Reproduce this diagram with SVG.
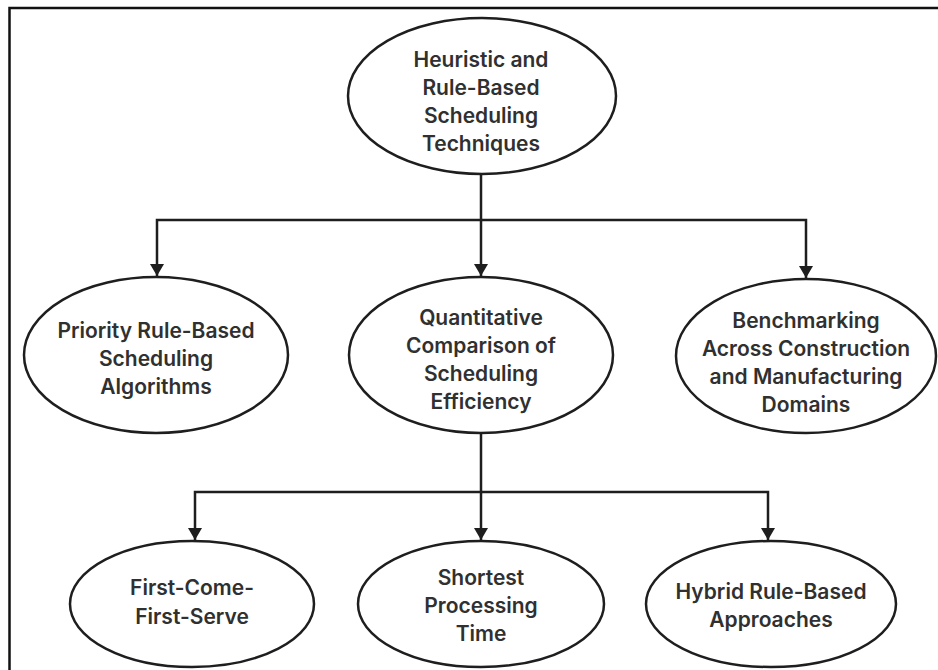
<svg xmlns="http://www.w3.org/2000/svg" width="938" height="670" viewBox="0 0 938 670">
  <style>
    .node ellipse { fill: #ffffff; stroke: #1e1e1e; stroke-width: 2.5; }
    .node text { font-family: Inter, "Liberation Sans", sans-serif; font-weight: 600; font-size: 21px; fill: #303030; text-anchor: middle; dominant-baseline: central; }
    .edge { fill: none; stroke: #1e1e1e; stroke-width: 2.5; }
  </style>
  <defs>
    <marker id="arrow" viewBox="0 0 12 14" refX="12" refY="7" markerWidth="12" markerHeight="14" markerUnits="userSpaceOnUse" orient="auto">
      <path d="M0,0 L12,7 L0,14 Z" fill="#1e1e1e"/>
    </marker>
  </defs>
  <rect width="938" height="670" fill="#ffffff"/>
  <!-- frame -->
  <path d="M9.5,670 V8 H938" fill="none" stroke="#111111" stroke-width="2.5"/>

  <g id="connectors">
    <path class="edge" d="M481,174 V220 H157 V276" marker-end="url(#arrow)"/>
    <path class="edge" d="M481,220 V276" marker-end="url(#arrow)"/>
    <path class="edge" d="M481,220 H806 V278" marker-end="url(#arrow)"/>
    <path class="edge" d="M481,433 V492 H195 V540" marker-end="url(#arrow)"/>
    <path class="edge" d="M481,492 V540" marker-end="url(#arrow)"/>
    <path class="edge" d="M481,492 H768 V540" marker-end="url(#arrow)"/>
  </g>

  <g id="root" class="node">
    <ellipse cx="482" cy="96" rx="134" ry="78"/>
    <text x="481" y="59">Heuristic and</text>
    <text x="481" y="87">Rule-Based</text>
    <text x="481" y="115">Scheduling</text>
    <text x="481" y="143">Techniques</text>
  </g>

  <g id="priority" class="node">
    <ellipse cx="156" cy="355" rx="132" ry="78"/>
    <text x="156" y="330">Priority Rule-Based</text>
    <text x="156" y="358">Scheduling</text>
    <text x="156" y="386">Algorithms</text>
  </g>

  <g id="quantitative" class="node">
    <ellipse cx="481" cy="355" rx="132" ry="78"/>
    <text x="481" y="317">Quantitative</text>
    <text x="481" y="345">Comparison of</text>
    <text x="481" y="373">Scheduling</text>
    <text x="481" y="401">Efficiency</text>
  </g>

  <g id="benchmarking" class="node">
    <ellipse cx="806" cy="356" rx="130" ry="77"/>
    <text x="806" y="320">Benchmarking</text>
    <text x="806" y="348">Across Construction</text>
    <text x="806" y="376">and Manufacturing</text>
    <text x="806" y="404">Domains</text>
  </g>

  <g id="fcfs" class="node">
    <ellipse cx="192" cy="604" rx="122" ry="63"/>
    <text x="192" y="587">First-Come-</text>
    <text x="192" y="616">First-Serve</text>
  </g>

  <g id="spt" class="node">
    <ellipse cx="481" cy="604" rx="123" ry="63"/>
    <text x="481" y="577">Shortest</text>
    <text x="481" y="605">Processing</text>
    <text x="481" y="633">Time</text>
  </g>

  <g id="hybrid" class="node">
    <ellipse cx="771" cy="604" rx="125" ry="63"/>
    <text x="771" y="591">Hybrid Rule-Based</text>
    <text x="771" y="619">Approaches</text>
  </g>
</svg>
